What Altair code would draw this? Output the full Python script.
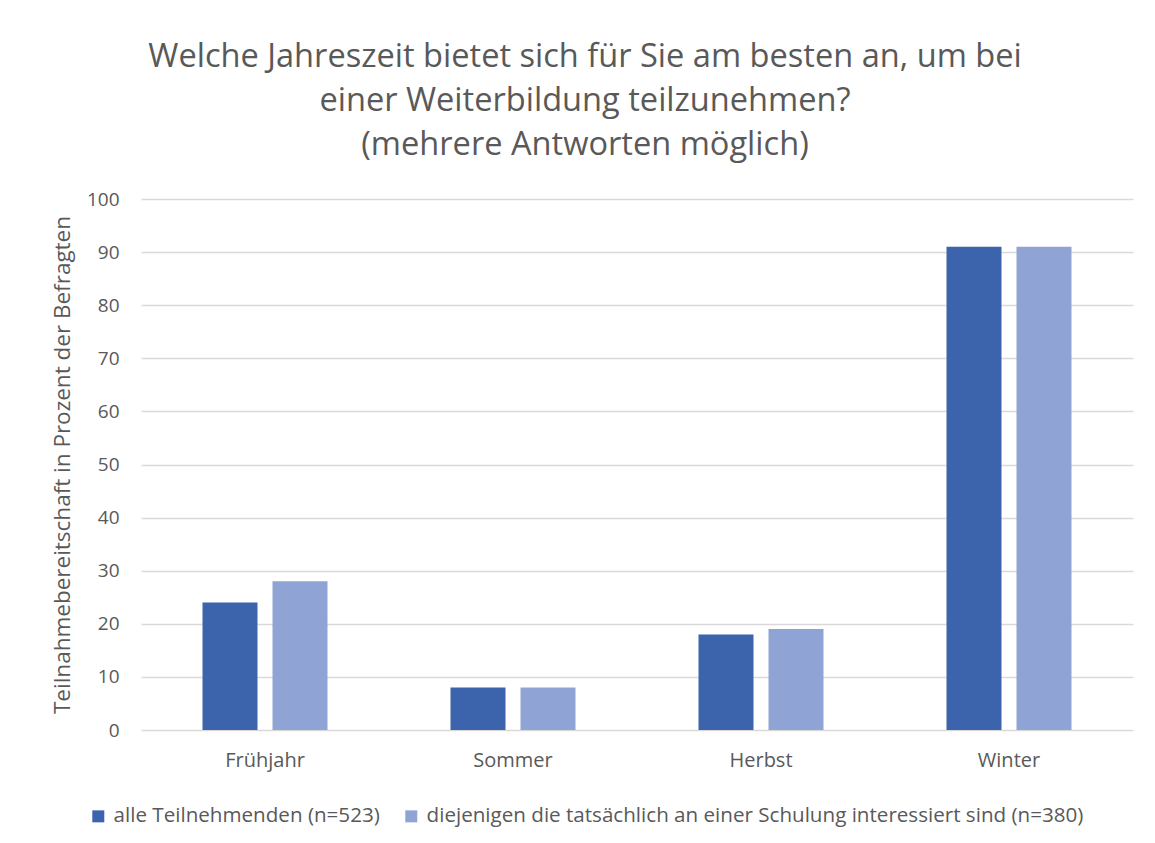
import altair as alt
import pandas as pd

categories = ["Frühjahr", "Sommer", "Herbst", "Winter"]
series_names = ["alle Teilnehmenden (n=523)",
                "diejenigen die tatsächlich an einer Schulung interessiert sind (n=380)"]
alle = [24, 8, 18, 91]
interessiert = [28, 8, 19, 91]
colors = ["#3C64AD", "#8FA4D4"]

rows = []
for c, a, b in zip(categories, alle, interessiert):
    rows.append({"Jahreszeit": c, "Gruppe": series_names[0], "Wert": a})
    rows.append({"Jahreszeit": c, "Gruppe": series_names[1], "Wert": b})
df = pd.DataFrame(rows)

FONT = "Open Sans"
GRAY = "#595959"

chart = alt.Chart(df).mark_bar().encode(
    x=alt.X("Jahreszeit:N", sort=categories,
            scale=alt.Scale(paddingInner=0.496, paddingOuter=0.248),
            axis=alt.Axis(title=None, labelAngle=0, domain=False, ticks=False,
                          labelPadding=20, labelFontSize=20, labelColor=GRAY,
                          labelFont=FONT)),
    xOffset=alt.XOffset("Gruppe:N", sort=series_names,
                        scale=alt.Scale(paddingInner=0.2143, paddingOuter=0)),
    y=alt.Y("Wert:Q", scale=alt.Scale(domain=[0, 100], nice=False),
            axis=alt.Axis(title="Teilnahmebereitschaft in Prozent der Befragten",
                          values=list(range(0, 101, 10)), domain=False, ticks=False,
                          labelPadding=22, labelFontSize=19, labelColor=GRAY,
                          labelFont=FONT, titleFont=FONT, titleFontSize=22.5,
                          titleFontWeight="normal", titleColor=GRAY,
                          titleX=-79, titleY=265.5, titleAngle=270,
                          titleAlign="center", titleBaseline="middle",
                          gridColor="#D9D9D9", gridWidth=1.5)),
    color=alt.Color("Gruppe:N", sort=series_names,
                    scale=alt.Scale(domain=series_names, range=colors),
                    legend=alt.Legend(title=None, orient="none", direction="horizontal",
                                      legendX=-53, legendY=607,
                                      symbolType="square", symbolSize=144,
                                      symbolStrokeWidth=0,
                                      labelFontSize=20.6, labelColor=GRAY,
                                      labelFont=FONT, columnPadding=21,
                                      labelLimit=900, labelOffset=5)),
).properties(
    width=992,
    height=531,
    padding={"left": 133, "top": 191, "right": 14, "bottom": 110},
    autosize=alt.AutoSizeParams(type="none"),
    title=alt.TitleParams(
        ["Welche Jahreszeit bietet sich für Sie am besten an, um bei",
         "einer Weiterbildung teilzunehmen?",
         "(mehrere Antworten möglich)"],
        anchor="middle", dx=-52, fontSize=32.6, font=FONT, fontWeight="normal",
        color=GRAY, lineHeight=44, offset=28),
).configure_view(stroke=None)

chart.save("out.html", embed_options={"renderer": "svg", "actions": False})
